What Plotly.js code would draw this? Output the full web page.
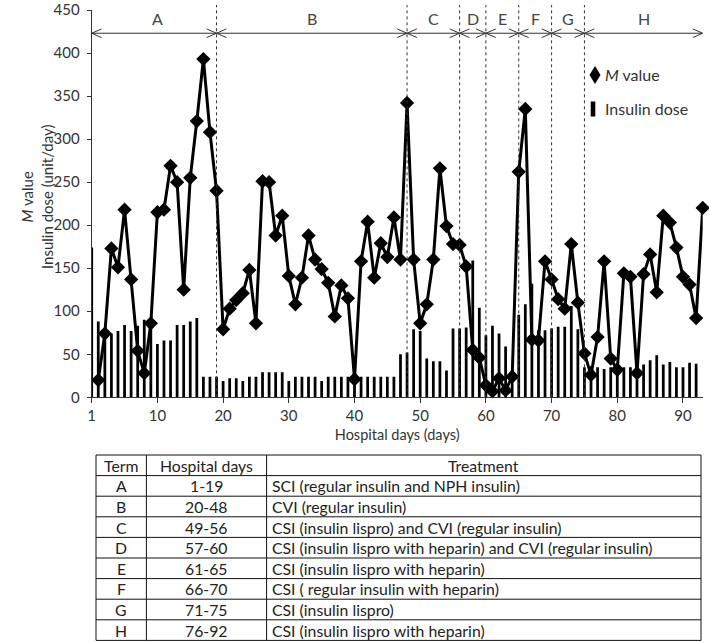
<!DOCTYPE html>
<html><head><meta charset="utf-8">
<script src="https://cdn.plot.ly/plotly-3.0.1.min.js"></script>
<style>html,body{margin:0;padding:0;background:#fff}</style>
</head><body><div id="chart" style="width:709px;height:642px"></div>
<script>
// M value, hospital days 1..93
const mValue = [20,74,173,151,218,137,54,28,86,215,
  218,269,250,125,255,321,393,308,240,79,
  103,113,121,148,86,251,250,188,211,141,
  108,139,188,160,149,133,94,130,115,21,
  158,204,139,179,163,209,160,342,160,86,
  108,160,266,199,178,177,152,55,46,14,
  7,22,8,24,262,335,67,66,158,137,
  114,103,178,110,51,26,70,158,45,32,
  144,140,28,143,166,122,211,203,174,140,
  131,92,220];
// Insulin dose (unit/day), bars from the first tick
const insulinDose = [174,88,75,74,77,84,77,83,90,85,
  62,66,66,84,84,88,92,24,24,24,
  19,22,22,19,24,24,29,29,29,29,
  19,24,24,24,24,19,24,24,24,24,
  24,24,24,24,24,24,24,50,52,79,
  77,45,42,42,31,80,80,81,159,104,
  72,83,74,59,22,96,108,132,78,78,
  80,82,82,106,79,35,36,35,33,35,
  35,35,35,35,38,43,49,38,41,35,
  35,40,39];
const mDays = mValue.map((_, i) => i + 1);
const barDays = insulinDose.map((_, i) => i);

const xTickVals = [0,10,20,30,40,50,60,70,80,90];
const xTickText = ["1","10","20","30","40","50","60","70","80","90"];
const xTitle = "Hospital days (days)";
const yTitle = "<i>M</i> value<br>Insulin dose (unit/day)";

const seriesNames = ["<i>M</i> value", "Insulin dose"];

const termLetters = ["A","B","C","D","E","F","G","H"];
const termStart = [0,19,48,56,60,65,70,75];
const termEnd = [19,48,56,60,65,70,75,93];
const termDays = ["1-19","20-48","49-56","57-60","61-65","66-70","71-75","76-92"];
const treatments = [
  "SCI (regular insulin and NPH insulin)",
  "CVI (regular insulin)",
  "CSI (insulin lispro) and CVI (regular insulin)",
  "CSI (insulin lispro with heparin) and CVI (regular insulin)",
  "CSI (insulin lispro with heparin)",
  "CSI ( regular insulin with heparin)",
  "CSI (insulin lispro)",
  "CSI (insulin lispro with heparin)"
];
const tableHeader = ["Term", "Hospital days", "Treatment"];

const FONT = 'Lato, "Open Sans", sans-serif';
const W = 709, H = 642;
const plotL = 91.7, plotR = 702.7, plotT = 10, plotB = 397.3;
const yDomain = [(H - plotB) / H, (H - plotT) / H];
const arrowY = 423, labelY = 440;
const px = x => x / W, py = y => (H - y) / H;

const shapes = [];
const annotations = [];

// period boundaries
termEnd.slice(0, -1).forEach(d => {
  shapes.push({type:'line', xref:'x', yref:'paper', x0:d, x1:d,
    y0:yDomain[0], y1:py(5), line:{color:'#333', width:1, dash:'dot'}});
});
// period arrows
shapes.push({type:'line', xref:'x', yref:'y', x0:termStart[0], x1:termEnd[termEnd.length-1],
  y0:arrowY, y1:arrowY, line:{color:'#333', width:1}});
const cdx = 1.5, cdy = 5;
termStart.forEach((s, i) => {
  const e = termEnd[i];
  shapes.push({type:'path', xref:'x', yref:'y', line:{color:'#333', width:1},
    path:`M${s+cdx},${arrowY+cdy} L${s},${arrowY} L${s+cdx},${arrowY-cdy}`});
  shapes.push({type:'path', xref:'x', yref:'y', line:{color:'#333', width:1},
    path:`M${e-cdx},${arrowY+cdy} L${e},${arrowY} L${e-cdx},${arrowY-cdy}`});
  annotations.push({x:(Math.max(s, 1) + e) / 2, y:labelY, xref:'x', yref:'y',
    text:termLetters[i], showarrow:false, font:{family:FONT, size:16, color:'#444'}});
});

// y-axis title (two lines, placed like the original)
annotations.push({x:px(37), y:py(197), xref:'paper', yref:'paper', xanchor:'center',
  yanchor:'middle', textangle:-90, text:yTitle, showarrow:false,
  font:{family:FONT, size:15, color:'#333'}});

// legend (drawn)
const lgX = 595, lgY = [75, 109];
shapes.push({type:'path', xref:'paper', yref:'paper', fillcolor:'#000', line:{width:0},
  path:`M${px(lgX)},${py(lgY[0]-9)} L${px(lgX+5.5)},${py(lgY[0])} L${px(lgX)},${py(lgY[0]+9)} L${px(lgX-5.5)},${py(lgY[0])} Z`});
shapes.push({type:'rect', xref:'paper', yref:'paper', fillcolor:'#000', line:{width:0},
  x0:px(lgX-4.3), x1:px(lgX+0.3), y0:py(lgY[1]-7.5), y1:py(lgY[1]+7.5)});
seriesNames.forEach((n, i) => {
  annotations.push({x:px(lgX+8), y:py(lgY[i]), xref:'paper', yref:'paper', xanchor:'left',
    yanchor:'middle', text:n, showarrow:false, font:{family:FONT, size:16, color:'#333'}});
});

// table (drawn)
const tLeft = 96, tRight = 701, tTop = 455, rowH = 20.6;
const colEdges = [96, 146.4, 266.6, 701];
const nRows = termLetters.length + 1;
const tBottom = tTop + nRows * rowH;
for (let r = 0; r <= nRows; r++) {
  const y = tTop + r * rowH;
  shapes.push({type:'line', xref:'paper', yref:'paper', x0:px(tLeft), x1:px(tRight),
    y0:py(y), y1:py(y), line:{color:'#111', width:1}});
}
colEdges.forEach(x => {
  shapes.push({type:'line', xref:'paper', yref:'paper', x0:px(x), x1:px(x),
    y0:py(tTop), y1:py(tBottom), line:{color:'#111', width:1}});
});
const tFont = {family:FONT, size:15.8, color:'#222'};
const colCenter = c => (colEdges[c] + colEdges[c+1]) / 2;
tableHeader.forEach((t, c) => {
  annotations.push({x:px(colCenter(c)), y:py(tTop + rowH/2), xref:'paper', yref:'paper',
    xanchor:'center', yanchor:'middle', text:t, showarrow:false, font:tFont});
});
termLetters.forEach((t, i) => {
  const yc = py(tTop + (i + 1.5) * rowH);
  annotations.push({x:px(colCenter(0)), y:yc, xref:'paper', yref:'paper', xanchor:'center',
    yanchor:'middle', text:t, showarrow:false, font:tFont});
  annotations.push({x:px(colCenter(1)), y:yc, xref:'paper', yref:'paper', xanchor:'center',
    yanchor:'middle', text:termDays[i], showarrow:false, font:tFont});
  annotations.push({x:px(colEdges[2] + 3), y:yc, xref:'paper', yref:'paper', xanchor:'left',
    yanchor:'middle', text:treatments[i], showarrow:false, font:tFont});
});

const data = [
  {type:'bar', x:barDays, y:insulinDose, name:'Insulin dose', showlegend:false,
   width:0.42, marker:{color:'#000', line:{width:0}}},
  {type:'scatter', x:mDays, y:mValue, mode:'lines+markers', name:'M value', showlegend:false,
   cliponaxis:false, line:{color:'#000', width:3},
   marker:{symbol:'diamond', size:11, color:'#000'}}
];

const layout = {
  width:W, height:H, margin:{l:0, r:0, t:0, b:0},
  paper_bgcolor:'#fff', plot_bgcolor:'#fff',
  font:{family:FONT, size:14, color:'#333'},
  showlegend:false,
  xaxis:{domain:[plotL/W, plotR/W], range:[0, 93], tickvals:xTickVals, ticktext:xTickText,
    ticks:'outside', ticklen:5, tickcolor:'#333', showline:true, linecolor:'#333', linewidth:1,
    showgrid:false, zeroline:false, fixedrange:true, tickfont:{family:FONT, size:15, color:'#333'},
    title:{text:xTitle, standoff:6, font:{family:FONT, size:14.5, color:'#333'}}},
  yaxis:{domain:yDomain, range:[0, 450], dtick:50, ticks:'outside', ticklen:4, tickcolor:'#333',
    showline:true, linecolor:'#333', linewidth:1, showgrid:false, zeroline:false, fixedrange:true,
    tickfont:{family:FONT, size:15, color:'#333'}, ticklabelstandoff:4, ticklabeloverflow:'allow'},
  shapes:shapes, annotations:annotations
};
Plotly.newPlot('chart', data, layout, {staticPlot:true});
</script></body></html>
